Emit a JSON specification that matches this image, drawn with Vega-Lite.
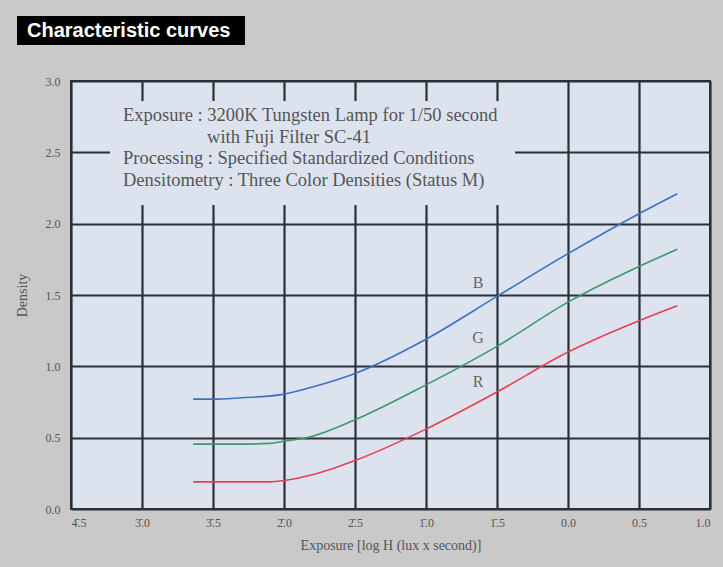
{
  "$schema": "https://vega.github.io/schema/vega-lite/v6.json",
  "width": 639,
  "height": 428,
  "autosize": "none",
  "padding": {"left": 71, "top": 81, "right": 13, "bottom": 58},
  "background": "#c9c9c9",
  "config": {
    "view": {"fill": "#dce3ef", "stroke": "#2b2f36", "strokeWidth": 2},
    "axis": {
      "grid": true, "gridColor": "#2b2f36", "gridWidth": 2.2, "gridOpacity": 1,
      "ticks": false, "domain": false,
      "labelFont": "Liberation Serif", "labelFontSize": 12, "labelColor": "#555555",
      "titleFont": "Liberation Serif", "titleFontSize": 14, "titleFontWeight": "normal", "titleColor": "#555555"
    }
  },
  "datasets": {
    "curves": [
      {"x": -2.64, "d": 0.77, "ch": "B"}, {"x": -2.5, "d": 0.77, "ch": "B"}, {"x": -2.3, "d": 0.78, "ch": "B"},
      {"x": -2.03, "d": 0.8, "ch": "B"}, {"x": -1.8, "d": 0.855, "ch": "B"}, {"x": -1.5, "d": 0.95, "ch": "B"},
      {"x": -1.0, "d": 1.19, "ch": "B"}, {"x": -0.5, "d": 1.49, "ch": "B"},
      {"x": 0.0, "d": 1.79, "ch": "B"}, {"x": 0.5, "d": 2.07, "ch": "B"}, {"x": 0.77, "d": 2.21, "ch": "B"},
      {"x": -2.64, "d": 0.455, "ch": "G"}, {"x": -2.3, "d": 0.455, "ch": "G"}, {"x": -2.1, "d": 0.46, "ch": "G"},
      {"x": -2.0, "d": 0.475, "ch": "G"}, {"x": -1.8, "d": 0.51, "ch": "G"}, {"x": -1.5, "d": 0.625, "ch": "G"},
      {"x": -1.0, "d": 0.87, "ch": "G"}, {"x": -0.5, "d": 1.14, "ch": "G"},
      {"x": 0.0, "d": 1.45, "ch": "G"}, {"x": 0.5, "d": 1.7, "ch": "G"},
      {"x": 0.77, "d": 1.82, "ch": "G"},
      {"x": -2.64, "d": 0.19, "ch": "R"}, {"x": -2.1, "d": 0.19, "ch": "R"}, {"x": -2.0, "d": 0.2, "ch": "R"},
      {"x": -1.8, "d": 0.24, "ch": "R"}, {"x": -1.5, "d": 0.34, "ch": "R"},
      {"x": -1.0, "d": 0.56, "ch": "R"}, {"x": -0.5, "d": 0.82, "ch": "R"},
      {"x": 0.0, "d": 1.1, "ch": "R"}, {"x": 0.5, "d": 1.32, "ch": "R"}, {"x": 0.77, "d": 1.425, "ch": "R"}
    ],
    "notes": [
      {"x": -3.134, "y": 2.76, "t": "Exposure : 3200K Tungsten Lamp for 1/50 second"},
      {"x": -2.542, "y": 2.61, "t": "with Fuji Filter SC-41"},
      {"x": -3.134, "y": 2.46, "t": "Processing : Specified Standardized Conditions"},
      {"x": -3.134, "y": 2.305, "t": "Densitometry : Three Color Densities (Status M)"}
    ],
    "tags": [
      {"x": -0.634, "y": 1.584, "t": "B"},
      {"x": -0.634, "y": 1.198, "t": "G"},
      {"x": -0.634, "y": 0.89, "t": "R"}
    ],
    "cover": [{"x": -3.225, "x2": -0.373, "y": 2.13, "y2": 2.86}],
    "titlebox": [{"x": -3.88, "x2": -2.275, "y": 3.252, "y2": 3.455, "tx": -3.81, "ty": 3.352, "t": "Characteristic curves"}]
  },
  "encoding": {
    "x": {"type": "quantitative"},
    "y": {"type": "quantitative"}
  },
  "layer": [
    {
      "data": {"name": "cover"},
      "mark": {"type": "rect", "fill": "#dce3ef"},
      "encoding": {
        "x": {"field": "x", "type": "quantitative",
          "scale": {"domain": [-3.5, 1.0], "nice": false, "zero": false},
          "axis": {
            "values": [-3.5, -3.0, -2.5, -2.0, -1.5, -1.0, -0.5, 0.0, 0.5, 1.0],
            "labelExpr": "datum.value < -3.25 ? '4\u0304.5' : datum.value < -2.75 ? '3\u0304.0' : datum.value < -2.25 ? '3\u0304.5' : datum.value < -1.75 ? '2\u0304.0' : datum.value < -1.25 ? '2\u0304.5' : datum.value < -0.75 ? '1\u0304.0' : datum.value < -0.25 ? '1\u0304.5' : format(datum.value, '.1f')",
            "labelPadding": 8, "title": "Exposure [log H (lux x second)]", "titlePadding": 10
          }},
        "x2": {"field": "x2"},
        "y": {"field": "y", "type": "quantitative",
          "scale": {"domain": [0, 3], "nice": false},
          "axis": {"values": [0, 0.5, 1.0, 1.5, 2.0, 2.5, 3.0], "format": ".1f", "labelPadding": 11,
            "title": "Density", "titlePadding": 16}},
        "y2": {"field": "y2"}
      }
    },
    {
      "data": {"name": "curves"},
      "mark": {"type": "line", "strokeWidth": 1.6, "interpolate": "monotone"},
      "encoding": {
        "x": {"field": "x", "type": "quantitative"},
        "y": {"field": "d", "type": "quantitative"},
        "color": {"field": "ch", "type": "nominal",
          "scale": {"domain": ["B", "G", "R"], "range": ["#3b72c2", "#3a9a6a", "#e8404f"]},
          "legend": null}
      }
    },
    {
      "data": {"name": "notes"},
      "mark": {"type": "text", "align": "left", "baseline": "middle", "font": "Liberation Serif", "fontSize": 18.5, "color": "#555555"},
      "encoding": {
        "x": {"field": "x", "type": "quantitative"},
        "y": {"field": "y", "type": "quantitative"},
        "text": {"field": "t"}
      }
    },
    {
      "data": {"name": "tags"},
      "mark": {"type": "text", "align": "center", "baseline": "middle", "font": "Liberation Serif", "fontSize": 16, "color": "#666666"},
      "encoding": {
        "x": {"field": "x", "type": "quantitative"},
        "y": {"field": "y", "type": "quantitative"},
        "text": {"field": "t"}
      }
    },
    {
      "data": {"name": "titlebox"},
      "mark": {"type": "rect", "fill": "#000000"},
      "encoding": {
        "x": {"field": "x", "type": "quantitative"},
        "x2": {"field": "x2"},
        "y": {"field": "y", "type": "quantitative"},
        "y2": {"field": "y2"}
      }
    },
    {
      "data": {"name": "titlebox"},
      "mark": {"type": "text", "align": "left", "baseline": "middle", "font": "Liberation Sans", "fontSize": 20, "fontWeight": "bold", "color": "#ffffff"},
      "encoding": {
        "x": {"field": "tx", "type": "quantitative"},
        "y": {"field": "ty", "type": "quantitative"},
        "text": {"field": "t"}
      }
    }
  ]
}
